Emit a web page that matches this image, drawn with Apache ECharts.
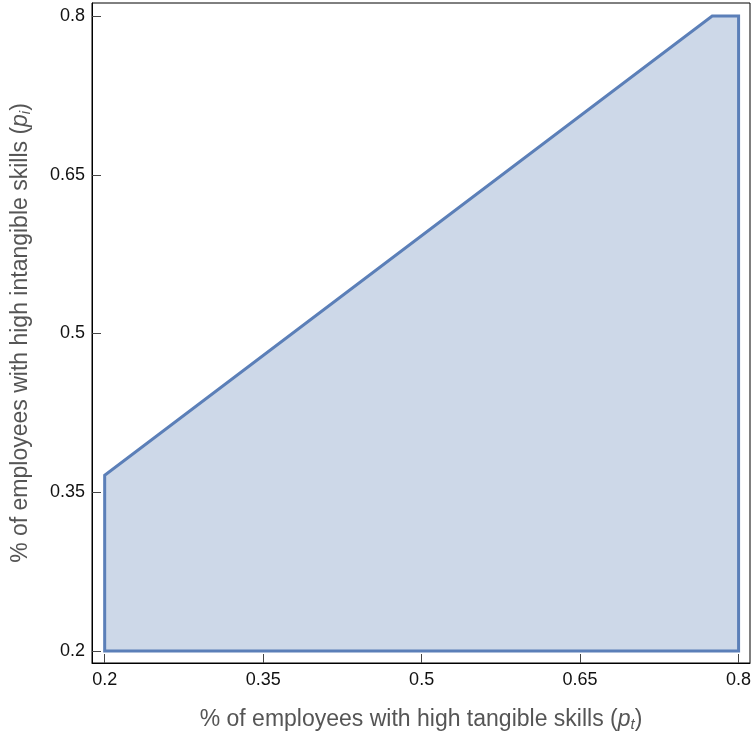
<!DOCTYPE html>
<html>
<head>
<meta charset="utf-8">
<script src="https://cdn.jsdelivr.net/npm/echarts@6/dist/echarts.min.js"></script>
<style>
  html, body { margin: 0; padding: 0; background: #fff; }
  #chart { width: 752px; height: 734px; }
</style>
</head>
<body>
<div id="chart"></div>
<script>
// Feasible region vertices (tangible share p_t, intangible share p_i)
const regionPt = [0.2, 0.2, 0.775, 0.8, 0.8];
const regionPi = [0.2, 0.366, 0.8, 0.8, 0.2];

// Tick values shown on both axes
const tickValues = [0.2, 0.35, 0.5, 0.65, 0.8];
const tickLabels = ['0.2', '0.35', '0.5', '0.65', '0.8'];

const points = regionPt.map((x, i) => [x, regionPi[i]]);

const FONT = 'Liberation Sans, Arial, sans-serif';
const NAME_SIZE = 23;

const chart = echarts.init(document.getElementById('chart'));

const axisCommon = {
  type: 'value',
  splitLine: { show: false },
  axisLine: { show: true, onZero: false, lineStyle: { color: '#000', width: 1 } },
  axisTick: {
    show: true, inside: true, length: 9,
    customValues: tickValues,
    lineStyle: { color: '#444', width: 1 }
  },
  nameLocation: 'middle',
  nameTextStyle: {
    color: '#555', fontSize: NAME_SIZE, fontFamily: FONT,
    rich: {
      t: { fontSize: NAME_SIZE, color: '#555', fontFamily: FONT },
      p: { fontStyle: 'italic', fontSize: NAME_SIZE, color: '#555', fontFamily: FONT },
      sub: { fontStyle: 'italic', fontSize: 15, color: '#555', verticalAlign: 'bottom', padding: [10, 0, 0, 0], fontFamily: FONT }
    }
  }
};

const fmt = v => {
  const i = tickValues.findIndex(t => Math.abs(t - v) < 1e-9);
  return i >= 0 ? tickLabels[i] : '';
};

chart.setOption({
  animation: false,
  grid: {
    left: 92, right: 2, top: 3, bottom: 71,
    containLabel: false, outerBoundsMode: 'none',
    show: true, borderColor: '#000', borderWidth: 1, backgroundColor: 'transparent'
  },
  xAxis: Object.assign({}, axisCommon, {
    min: 0.188, max: 0.8108,
    name: '{t|% of employees with high tangible skills (}{p|p}{sub|t}{t|)}',
    nameGap: 44,
    axisLabel: {
      customValues: tickValues, formatter: fmt, color: '#111', fontSize: 18,
      margin: 8, fontFamily: FONT
    }
  }),
  yAxis: Object.assign({}, axisCommon, {
    min: 0.1887, max: 0.8123,
    name: '{t|% of employees with high intangible skills (}{p|p}{sub|i}{t|)}',
    nameGap: 59, nameRotate: 90,
    axisLabel: {
      customValues: tickValues, formatter: fmt, color: '#111', fontSize: 18,
      margin: 7, fontFamily: FONT
    }
  }),
  series: [{
    type: 'custom',
    data: points,
    clip: true,
    renderItem: function (params, api) {
      if (params.dataIndex !== 0) return null;
      const pts = points.map(p => api.coord(p));
      return {
        type: 'polygon',
        shape: { points: pts },
        style: { fill: 'rgba(205,216,232,1)', stroke: '#5b7fb8', lineWidth: 3, lineJoin: 'miter' }
      };
    }
  }]
});
</script>
</body>
</html>
